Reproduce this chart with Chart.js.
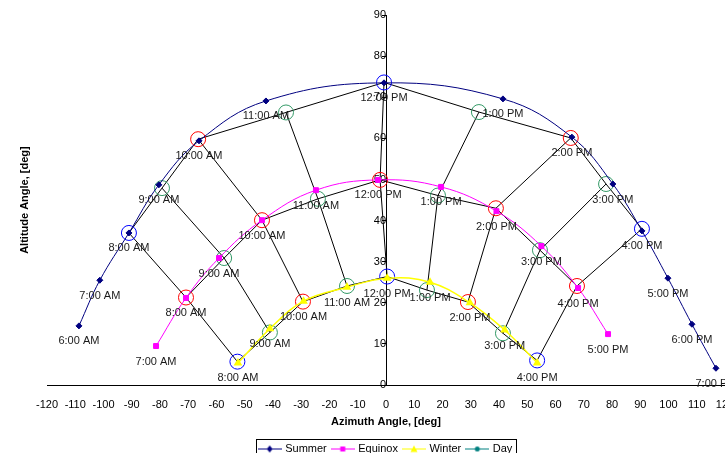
<!DOCTYPE html>
<html>
<head>
<meta charset="utf-8">
<script src="https://cdn.jsdelivr.net/npm/chart.js@4.4.1/dist/chart.umd.min.js"></script>
<style>
  html, body { margin: 0; padding: 0; background: #fff; overflow: hidden; }
  #wrap { width: 725px; height: 453px; overflow: hidden; }
  canvas { display: block; }
</style>
</head>
<body>
<div id="wrap"><canvas id="sunChart" width="760" height="464"></canvas></div>
<script>
// sun path values (azimuth, altitude in degrees)
const summerHours = ["6:00 AM", "7:00 AM", "8:00 AM", "9:00 AM", "10:00 AM", "11:00 AM", "12:00 PM",
  "1:00 PM", "2:00 PM", "3:00 PM", "4:00 PM", "5:00 PM", "6:00 PM", "7:00 PM"];
const summerAz = [-108.7, -101.3, -91.0, -80.4, -66.2, -42.5, -0.7, 41.4, 65.8, 80.3, 90.6, 99.8, 108.3, 116.8];
const summerAlt = [14.4, 25.5, 37.0, 48.7, 59.4, 69.1, 73.5, 69.6, 60.3, 48.9, 37.5, 26.0, 14.8, 4.1];

const equinoxHours = ["7:00 AM", "8:00 AM", "9:00 AM", "10:00 AM", "11:00 AM", "12:00 PM",
  "1:00 PM", "2:00 PM", "3:00 PM", "4:00 PM", "5:00 PM"];
const equinoxAz = [-81.4, -70.8, -59.1, -43.9, -24.8, -2.8, 19.5, 39.1, 55.0, 68.0, 78.6];
const equinoxAlt = [9.5, 21.2, 30.9, 40.1, 47.4, 49.9, 48.2, 42.3, 33.8, 23.6, 12.4];

const winterHours = ["8:00 AM", "9:00 AM", "10:00 AM", "11:00 AM", "12:00 PM",
  "1:00 PM", "2:00 PM", "3:00 PM", "4:00 PM"];
const winterAz = [-52.4, -41.1, -29.2, -13.8, 0.4, 15.6, 29.7, 42.0, 53.5];
const winterAlt = [5.4, 13.7, 20.4, 23.8, 26.0, 25.0, 20.0, 13.4, 5.4];

// hour grid (8 AM .. 4 PM) with the circled points
const summerGridAz = [-91.0, -79.3, -66.5, -35.4, -0.7, 32.9, 65.4, 77.9, 90.6];
const summerGridAlt = [37.0, 47.9, 59.8, 66.3, 73.6, 66.4, 60.1, 48.9, 38.0];
const equinoxGridAz = [-70.8, -57.3, -43.9, -24.1, -2.1, 18.4, 38.9, 54.5, 67.6];
const equinoxGridAlt = [21.3, 30.9, 40.1, 45.3, 49.9, 46.1, 43.0, 32.8, 24.1];
const winterGridAz = [-52.6, -41.1, -29.4, -13.8, 0.4, 14.5, 29.0, 41.4, 53.5];
const winterGridAlt = [5.7, 12.8, 20.3, 24.1, 26.4, 23.1, 20.2, 12.6, 6.0];

const xTickMin = -120, xTickMax = 120, xTickStep = 10;
const yTickMin = 0, yTickMax = 90, yTickStep = 10;

const FONT = '"Liberation Sans", Arial, sans-serif';
const BLUE = "#0000ff", RED = "#ff0000", GREEN = "#339966";
const outerRing = [BLUE, GREEN, RED, GREEN, BLUE, GREEN, RED, GREEN, BLUE];
const middleRing = [RED, GREEN, RED, GREEN, RED, GREEN, RED, GREEN, RED];

function pts(xs, ys) {
  return xs.map((x, i) => ({ x: x, y: ys[i] }));
}

// small legend sample: line with marker
function legendSample(color, style) {
  const c = document.createElement("canvas");
  c.width = 24; c.height = 10;
  const g = c.getContext("2d");
  g.strokeStyle = color; g.fillStyle = color; g.lineWidth = 1;
  g.beginPath(); g.moveTo(0, 5.5); g.lineTo(24, 5.5); g.stroke();
  g.beginPath();
  if (style === "diamond") { g.moveTo(12, 2); g.lineTo(15, 5.5); g.lineTo(12, 9); g.lineTo(9, 5.5); }
  else if (style === "square") { g.rect(9.5, 3, 5, 5); }
  else if (style === "triangle") { g.moveTo(12, 2); g.lineTo(15.5, 8.5); g.lineTo(8.5, 8.5); }
  else { g.arc(12, 5.5, 2.5, 0, Math.PI * 2); }
  g.closePath(); g.fill();
  return c;
}

const datasets = [
  {
    label: "Summer", data: pts(summerAz, summerAlt), hourLabels: summerHours,
    showLine: true, tension: 0.4, borderColor: "#000080", borderWidth: 1,
    pointStyle: "rectRot", pointRadius: 3, pointBackgroundColor: "#000080", pointBorderColor: "#000080",
    legendImg: legendSample("#000080", "diamond")
  },
  {
    label: "Equinox", data: pts(equinoxAz, equinoxAlt), hourLabels: equinoxHours,
    showLine: true, tension: 0.4, borderColor: "#ff00ff", borderWidth: 1,
    pointStyle: "rect", pointRadius: 3.5, pointBackgroundColor: "#ff00ff", pointBorderColor: "#ff00ff",
    legendImg: legendSample("#ff00ff", "square")
  },
  {
    label: "Winter", data: pts(winterAz, winterAlt), hourLabels: winterHours,
    showLine: true, tension: 0.4, borderColor: "#ffff00", borderWidth: 1.5,
    pointStyle: "triangle", pointRadius: 3.5, pointBackgroundColor: "#ffff00", pointBorderColor: "#ffff00",
    legendImg: legendSample("#ffff00", "triangle")
  },
  {
    label: "Day", data: [], showLine: true, borderColor: "#008080",
    pointStyle: "circle", pointBackgroundColor: "#008080",
    legendImg: legendSample("#008080", "circle")
  }
];

// circled grid points joined along each season
[[summerGridAz, summerGridAlt, outerRing],
 [equinoxGridAz, equinoxGridAlt, middleRing],
 [winterGridAz, winterGridAlt, outerRing]].forEach(([xs, ys, ring]) => {
  datasets.push({
    label: "grid", data: pts(xs, ys), showLine: true, borderColor: "#000", borderWidth: 1,
    pointRadius: 7.5, pointBorderWidth: 1, pointBorderColor: ring, pointBackgroundColor: "rgba(0,0,0,0)"
  });
});

// hour lines summer -> equinox -> winter
summerGridAz.forEach((_, i) => {
  datasets.push({
    label: "hour", showLine: true, borderColor: "#000", borderWidth: 1, pointRadius: 0,
    data: [
      { x: summerGridAz[i], y: summerGridAlt[i] },
      { x: equinoxGridAz[i], y: equinoxGridAlt[i] },
      { x: winterGridAz[i], y: winterGridAlt[i] }
    ]
  });
});

// hour text under every season point
const hourText = {
  id: "hourText",
  afterDatasetsDraw(chart) {
    const ctx = chart.ctx;
    ctx.save();
    ctx.font = "11px " + FONT;
    ctx.fillStyle = "#1a1a1a";
    ctx.textAlign = "center";
    ctx.textBaseline = "middle";
    chart.data.datasets.forEach((ds, i) => {
      if (!ds.hourLabels) return;
      chart.getDatasetMeta(i).data.forEach((p, j) => {
        ctx.fillText(ds.hourLabels[j], p.x, p.y + 15.5);
      });
    });
    ctx.restore();
  }
};

// y title on the far left, legend frame
const extras = {
  id: "extras",
  afterDraw(chart) {
    const ctx = chart.ctx;
    const a = chart.chartArea;
    ctx.save();
    ctx.font = "bold 11px " + FONT;
    ctx.fillStyle = "#000";
    ctx.textAlign = "center";
    ctx.textBaseline = "middle";
    ctx.translate(a.left - 22, (a.top + a.bottom) / 2);
    ctx.rotate(-Math.PI / 2);
    ctx.fillText("Altitude Angle, [deg]", 0, 0);
    ctx.restore();

    const boxes = chart.legend.legendHitBoxes;
    if (boxes && boxes.length) {
      const l = Math.min(...boxes.map(b => b.left)) - 4;
      const r = Math.max(...boxes.map(b => b.left + b.width)) + 3;
      const t = boxes[0].top - 4;
      ctx.save();
      ctx.strokeStyle = "#000";
      ctx.lineWidth = 1;
      ctx.strokeRect(Math.round(l) + 0.5, Math.round(t) + 0.5, Math.round(r - l), 30);
      ctx.restore();
    }
  }
};

new Chart(document.getElementById("sunChart"), {
  type: "scatter",
  data: { datasets: datasets },
  options: {
    responsive: false,
    animation: false,
    layout: { padding: { left: 47, right: 35, top: 15, bottom: 0 } },
    scales: {
      x: {
        type: "linear", min: xTickMin, max: xTickMax,
        grid: { drawOnChartArea: false, drawTicks: true, tickLength: 11, tickColor: "rgba(0,0,0,0)" },
        border: { color: "#000", width: 1 },
        ticks: { stepSize: xTickStep, autoSkip: false, maxRotation: 0, padding: 2, color: "#000",
          font: { family: FONT, size: 11 } },
        title: { display: true, text: "Azimuth Angle, [deg]", color: "#000",
          font: { family: FONT, size: 11, weight: "bold" }, padding: { top: 2, bottom: 8.5 } }
      },
      y: {
        type: "linear", min: yTickMin, max: yTickMax, position: { x: 0 },
        grid: { drawOnChartArea: false, drawTicks: true, tickLength: 4, color: "#000" },
        border: { color: "#000", width: 1 },
        ticks: { stepSize: yTickStep, padding: 2, color: "#000", font: { family: FONT, size: 11 } }
      }
    },
    plugins: {
      tooltip: { enabled: false },
      legend: {
        position: "bottom",
        labels: {
          usePointStyle: true, pointStyleWidth: 20, padding: 6, color: "#000",
          font: { family: FONT, size: 11 },
          filter: item => item.datasetIndex < 4,
          generateLabels: chart => chart.data.datasets.slice(0, 4).map((ds, i) => ({
            text: ds.label, pointStyle: ds.legendImg, datasetIndex: i, hidden: false,
            fillStyle: ds.borderColor, strokeStyle: ds.borderColor, lineWidth: 0
          }))
        }
      }
    }
  },
  plugins: [hourText, extras]
});
</script>
</body>
</html>
